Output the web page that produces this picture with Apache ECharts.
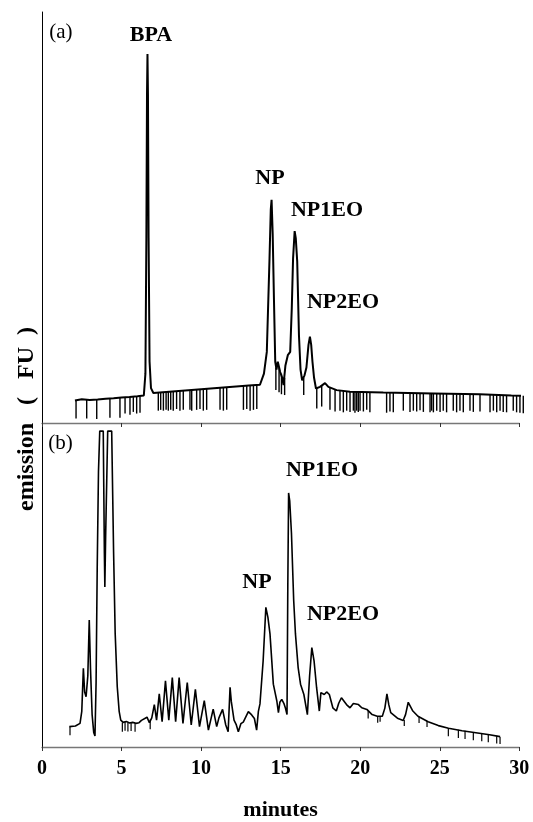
<!DOCTYPE html>
<html>
<head>
<meta charset="utf-8">
<script src="https://cdn.jsdelivr.net/npm/echarts/dist/echarts.min.js"></script>
<style>
  html, body { margin: 0; padding: 0; background: #fff; }
  #main { width: 533px; height: 822px; }
</style>
</head>
<body>
<div id="main"></div>
<script>
// x ticks (minutes)
var xTicks = [0, 5, 10, 15, 20, 25, 30];

// (a) standard trace: [minutes, emission]
var traceA = [
  [2.07, 5.5], [2.5, 5.8], [3.0, 5.6], [3.5, 5.7], [4.0, 5.9], [4.5, 6.0], [5.0, 6.2], [5.5, 6.3],
  [6.0, 6.5], [6.4, 6.7], [6.5, 12], [6.56, 45], [6.6, 80], [6.63, 89.8], [6.66, 80], [6.7, 45],
  [6.76, 15], [6.85, 8.5], [7.0, 7.3], [8, 7.6], [9, 7.9], [10, 8.2], [11, 8.5], [12, 8.8],
  [13, 9.1], [13.7, 9.3], [13.95, 12], [14.13, 17.3], [14.3, 40], [14.38, 52], [14.43, 54.3],
  [14.5, 46], [14.58, 30], [14.66, 14.9], [14.74, 13], [14.82, 14.9], [14.97, 12.4], [15.1, 11],
  [15.18, 9.2], [15.3, 14], [15.45, 16.5], [15.6, 17.3], [15.7, 28], [15.78, 40], [15.88, 46.7],
  [15.95, 45], [16.04, 39.4], [16.15, 21.4], [16.25, 13], [16.35, 10.4], [16.5, 11.6], [16.62, 13.5],
  [16.75, 19], [16.84, 21], [16.92, 19], [17.0, 14.9], [17.1, 11], [17.22, 8.4], [17.47, 8.8],
  [17.79, 9.7], [18.0, 8.8], [18.52, 8.0], [19.36, 7.6], [21.45, 7.4], [24.6, 7.2], [27.5, 7.0],
  [29.5, 6.7], [30.25, 6.6]
];

// (a) downward integrator marks: [minutes, top, bottom]
var spikesA = [
  [2.14, 5.5, 1.1], [2.81, 5.7, 1.1], [3.44, 5.6, 1.0], [4.27, 5.9, 1.3], [4.9, 6.1, 1.3],
  [5.22, 6.2, 2.3], [5.53, 6.3, 2.0], [5.74, 6.3, 2.7], [5.95, 6.4, 2.3], [6.16, 6.5, 2.5],
  [7.31, 7.4, 3.0], [7.46, 7.4, 3.2], [7.63, 7.5, 3.0], [7.8, 7.5, 3.2], [7.94, 7.6, 3.0],
  [8.09, 7.6, 3.2], [8.25, 7.7, 3.0], [8.46, 7.7, 3.4], [8.67, 7.8, 3.0], [8.88, 7.9, 3.2],
  [9.3, 8.0, 3.2], [9.41, 8.0, 3.0], [9.72, 8.1, 3.2], [9.93, 8.2, 3.4], [10.14, 8.2, 3.0],
  [10.35, 8.3, 3.2], [11.19, 8.5, 3.2], [11.4, 8.6, 3.0], [11.61, 8.7, 3.2], [12.66, 9.0, 3.2],
  [12.87, 9.0, 3.4], [13.08, 9.1, 3.0], [13.29, 9.2, 3.2], [13.5, 9.2, 3.4],
  [14.7, 13.5, 8.0], [14.9, 13.5, 7.5], [15.05, 12, 7.0], [15.25, 11, 6.8], [16.45, 11, 6.8],
  [17.27, 8.5, 3.5], [17.58, 9.0, 4.0], [18.1, 8.5, 3.2], [18.42, 8.1, 2.8], [18.73, 7.9, 3.0],
  [18.94, 7.8, 2.6], [19.15, 7.7, 3.0], [19.36, 7.6, 2.7], [19.57, 7.6, 3.0], [19.67, 7.6, 2.5],
  [19.78, 7.6, 3.0], [19.88, 7.6, 2.7], [19.99, 7.5, 3.0], [20.2, 7.5, 2.8], [20.41, 7.5, 3.2],
  [20.61, 7.5, 2.6], [21.66, 7.4, 2.5], [21.87, 7.4, 2.8], [22.08, 7.4, 2.6], [22.71, 7.3, 3.0],
  [23.13, 7.3, 2.7], [23.34, 7.3, 3.0], [23.55, 7.3, 2.8], [23.76, 7.3, 3.1], [23.97, 7.2, 2.7],
  [24.39, 7.2, 2.6], [24.49, 7.2, 3.0], [24.6, 7.2, 2.6], [24.81, 7.2, 3.0], [25.02, 7.1, 2.7],
  [25.22, 7.1, 3.0], [25.43, 7.1, 2.6], [25.85, 7.1, 3.0], [26.06, 7.0, 2.6], [26.27, 7.0, 3.0],
  [26.48, 7.0, 2.6], [26.9, 7.0, 3.0], [27.11, 7.0, 2.7], [27.53, 6.9, 2.8], [28.16, 6.8, 2.6],
  [28.37, 6.8, 3.0], [28.58, 6.8, 2.6], [28.79, 6.8, 3.0], [28.99, 6.7, 2.7], [29.2, 6.7, 2.6],
  [29.62, 6.7, 3.0], [29.83, 6.7, 2.6], [30.04, 6.6, 2.5], [30.25, 6.6, 2.4]
];

// (b) sample trace
var traceB = [
  [1.72, 6.3], [2.1, 6.5], [2.39, 7.3], [2.5, 11], [2.6, 24.3], [2.68, 17], [2.77, 15.5], [2.88, 22],
  [2.97, 39.2], [3.05, 24], [3.15, 10], [3.25, 4.5], [3.33, 3.4], [3.4, 20], [3.47, 55], [3.55, 85],
  [3.63, 97.5], [3.85, 97.5], [3.92, 60], [3.95, 49.4], [4.0, 65], [4.13, 97.5], [4.38, 97.5],
  [4.5, 60], [4.6, 35], [4.73, 18.6], [4.85, 11], [4.95, 8.3], [5.1, 7.6], [5.3, 7.9], [5.5, 7.4],
  [5.7, 7.6], [5.9, 7.3], [6.1, 7.5], [6.25, 8.2], [6.37, 8.8], [6.6, 9.2], [6.75, 7.5], [6.9, 9],
  [7.06, 13.1], [7.2, 8.3], [7.37, 16.4], [7.55, 7.8], [7.76, 20.4], [7.97, 8.3], [8.19, 21.4],
  [8.4, 7.8], [8.62, 21.4], [8.86, 7.3], [9.13, 19.9], [9.38, 6.8], [9.64, 17.8], [9.9, 6.3],
  [10.2, 14.3], [10.46, 5.2], [10.76, 11.7], [10.98, 6.3], [11.12, 9.0], [11.35, 11.6], [11.55, 6.8],
  [11.7, 4.7], [11.82, 18.4], [11.9, 14], [12.07, 8.3], [12.2, 7.0], [12.34, 4.7], [12.5, 7.2],
  [12.65, 7.7], [12.97, 10.9], [13.18, 9.9], [13.35, 8.8], [13.49, 5.2], [13.6, 11], [13.7, 13.3],
  [13.9, 26.6], [14.07, 43.1], [14.2, 40], [14.33, 34.9], [14.54, 19.4], [14.76, 14.2], [14.86, 10.6],
  [14.95, 13.8], [15.07, 14.7], [15.2, 13.5], [15.3, 12], [15.4, 10.0], [15.45, 50], [15.5, 78.4],
  [15.57, 76], [15.68, 65.9], [15.82, 45.2], [15.93, 34.9], [16.1, 24.5], [16.25, 19.4], [16.46, 16.2],
  [16.68, 10.0], [16.82, 22], [16.96, 30.7], [17.1, 26.6], [17.26, 18.3], [17.43, 11.1], [17.53, 16.8],
  [17.74, 16.2], [17.89, 17.0], [18.06, 16.2], [18.28, 12.1], [18.5, 11.1], [18.65, 13.5], [18.82, 15.2],
  [19.14, 13.1], [19.36, 12.1], [19.57, 13.4], [19.89, 13.1], [20.1, 12.1], [20.42, 11.6], [20.75, 10.0],
  [21.07, 9.5], [21.39, 9.5], [21.55, 12], [21.68, 16.4], [21.8, 13], [21.92, 10.6], [22.34, 8.9],
  [22.7, 8.2], [22.85, 10], [23.02, 13.8], [23.31, 11.1], [23.63, 9.5], [24.27, 7.8], [24.91, 6.6],
  [25.55, 5.8], [26.4, 5.0], [27.27, 4.4], [28.13, 3.8], [28.79, 3.2]
];

var spikesB = [
  [1.76, 6.3, 3.6], [5.05, 7.6, 4.7], [5.22, 7.8, 5.0], [5.4, 7.6, 4.8], [5.6, 7.5, 4.9],
  [5.85, 7.4, 4.7], [6.8, 8.5, 5.5], [20.5, 11.3, 8.8], [21.1, 9.5, 7.5], [21.25, 9.5, 7.8],
  [22.77, 8.3, 6.5], [23.7, 9.3, 7.4], [24.2, 8.0, 6.2], [25.54, 5.8, 3.3], [26.17, 5.3, 2.8],
  [26.59, 5.0, 2.5], [27.11, 4.6, 2.1], [27.64, 4.2, 1.8], [28.05, 3.9, 1.5], [28.58, 3.5, 1.1],
  [28.79, 3.2, 0.9]
];

// peak names: [minutes, emission, text]
var labelsA = [[1.19, 94.9, '(a)'], [6.85, 94.4, 'BPA'], [14.33, 59.6, 'NP'], [17.91, 51.8, 'NP1EO'], [18.92, 29.4, 'NP2EO']];
var labelsB = [[1.16, 93.8, '(b)'], [17.6, 85.5, 'NP1EO'], [13.51, 50.9, 'NP'], [18.92, 41.0, 'NP2EO']];

var serif = 'Liberation Serif';
var chart = echarts.init(document.getElementById('main'));

function spikeSeries(data, idx, w) {
  return {
    type: 'custom', xAxisIndex: idx, yAxisIndex: idx, silent: true,
    data: data,
    renderItem: function (params, api) {
      var p1 = api.coord([api.value(0), api.value(1)]);
      var p2 = api.coord([api.value(0), api.value(2)]);
      return { type: 'line', shape: { x1: p1[0], y1: p1[1], x2: p2[0], y2: p2[1] },
        style: { stroke: '#000', lineWidth: w } };
    }
  };
}

var xAxisBase = {
  type: 'value', min: 0, max: 30, interval: 5,
  axisLine: { lineStyle: { color: '#777', width: 1.3 } },
  axisTick: { inside: false, length: 4, lineStyle: { color: '#333' } },
  splitLine: { show: false }
};

var option = {
  animation: false,
  grid: [
    { left: 42, top: 12, width: 477.3, height: 411 },
    { left: 42, top: 423, width: 477.3, height: 324 }
  ],
  xAxis: [
    Object.assign({ gridIndex: 0, axisLabel: { show: false } }, xAxisBase),
    Object.assign({ gridIndex: 1,
      axisLabel: { show: true, margin: 12, fontFamily: serif, fontWeight: 'bold', fontSize: 20, color: '#000',
        formatter: function (v) { return xTicks.indexOf(v) >= 0 ? v : ''; } },
      name: 'minutes', nameLocation: 'middle', nameGap: 52,
      nameTextStyle: { fontFamily: serif, fontWeight: 'bold', fontSize: 22, color: '#000' } }, xAxisBase)
  ],
  yAxis: [
    { gridIndex: 0, type: 'value', min: 0, max: 100, axisLine: { show: true, lineStyle: { color: '#000' } },
      axisTick: { show: false }, axisLabel: { show: false }, splitLine: { show: false } },
    { gridIndex: 1, type: 'value', min: 0, max: 100, axisLine: { show: true, lineStyle: { color: '#000' } },
      axisTick: { show: false }, axisLabel: { show: false }, splitLine: { show: false } }
  ],
  series: [
    { type: 'line', xAxisIndex: 0, yAxisIndex: 0, data: traceA, showSymbol: false, clip: false,
      lineStyle: { color: '#000', width: 2 } },
    spikeSeries(spikesA, 0, 1.4),
    { type: 'line', xAxisIndex: 1, yAxisIndex: 1, data: traceB, showSymbol: false,
      lineStyle: { color: '#000', width: 1.6 } },
    spikeSeries(spikesB, 1, 1.2)
  ]
};

chart.setOption(option);

// peak names placed through the grid scales
function peakText(list, idx) {
  return list.map(function (d) {
    var p = chart.convertToPixel({ gridIndex: idx }, [d[0], d[1]]);
    var plain = d[2].charAt(0) === '(';
    return {
      type: 'text', x: p[0], y: p[1], silent: true,
      style: { text: d[2], fill: '#000', align: 'center', verticalAlign: 'middle',
        font: (plain ? 'normal 21px' : 'bold 22px') + ' "Liberation Serif"' }
    };
  });
}

chart.setOption({
  graphic: [{
    type: 'text', left: 15, top: 327, rotation: Math.PI / 2,
    style: { text: 'emission   (   FU  )', font: 'bold 24px "Liberation Serif"', fill: '#000' }
  }].concat(peakText(labelsA, 0), peakText(labelsB, 1))
});
</script>
</body>
</html>
